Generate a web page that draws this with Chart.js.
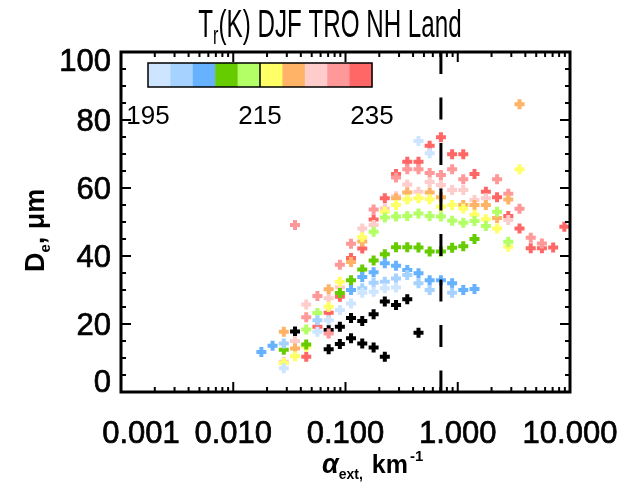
<!DOCTYPE html>
<html lang="en">
<head>
<meta charset="UTF-8">
<title>Tr(K) DJF TRO NH Land</title>
<style>
    body { margin: 0; background: #fff; }
    #wrap { width: 626px; height: 483px; }
</style>
</head>
<body>
<div id="wrap"><canvas id="deChart" width="626" height="483"></canvas></div>
<script src="https://cdn.jsdelivr.net/npm/chart.js@4.4.0/dist/chart.umd.min.js"></script>
<script>
// [alpha_ext (km^-1), De (um)] per temperature bin
const cold1 = [[0.0355,17.8],[0.0708,18.2],[0.0891,19.2],[0.112,21.8],[0.141,20.9],[0.178,22.9],[0.224,26.6],[0.282,25.6],[0.355,27.3],[0.447,17.4]];
const cold2 = [[0.0708,12.6],[0.0891,14.1],[0.112,15.8],[0.141,14.3],[0.178,13.1],[0.224,10.4]];
const t195 = [[0.0282,7],[0.0562,17.7],[0.0708,21.1],[0.0891,24.1],[0.112,26],[0.141,29.2],[0.178,29.5],[0.224,30.5],[0.282,30.7],[0.447,73.8],[0.562,70.2]];
const t199 = [[0.0282,14.3],[0.0562,21.1],[0.141,30.5],[0.178,32.1],[0.224,32.4],[0.282,33.4],[0.355,34.4],[0.447,32],[0.562,30],[0.891,29.2]];
const t203 = [[0.0178,11.8],[0.0224,13.6],[0.112,30],[0.141,33.8],[0.178,35.2],[0.224,37.9],[0.282,37.1],[0.355,35.9],[0.447,34.9],[0.562,32.9],[0.708,32.9],[0.891,32],[1.12,30],[1.41,30.3]];
const t207 = [[0.0282,12.4],[0.0447,14],[0.0891,29.1],[0.112,32.9],[0.141,36],[0.178,38.7],[0.224,40.5],[0.282,42.6],[0.355,42.6],[0.447,42.5],[0.562,41.3],[0.708,41.3],[0.891,42.4],[1.12,42.9],[1.41,45]];
const t211 = [[0.0447,18.4],[0.0562,23.2],[0.178,47.1],[0.224,51.3],[0.282,51.6],[0.355,51.8],[0.447,52.5],[0.562,51.8],[0.708,51.6],[0.891,50.4],[1.12,49.8],[1.41,50.3],[1.78,48.8],[2.24,53],[2.82,44.2]];
const t215 = [[0.0282,8.5],[0.0355,10.5],[0.0447,13.3],[0.0708,25.1],[0.0891,32.4],[0.141,45.5],[0.224,53],[0.282,55],[0.355,56.6],[0.447,57],[0.562,56.7],[0.708,54.5],[0.891,55],[1.12,54],[1.41,52.1],[1.78,50.8],[2.24,48.1],[2.82,42.7],[3.55,65.5]];
const t219 = [[0.0282,17.7],[0.0355,12.8],[0.0708,30.2],[0.112,38.2],[0.141,44.3],[0.282,57],[0.355,58.7],[0.562,58.7],[0.708,57.3],[1.12,55],[1.41,55],[1.78,55],[2.24,51.2],[2.82,56.6],[3.55,84.6]];
const t223 = [[0.0282,8.9],[0.0355,15],[0.0447,25.7],[0.0708,27.6],[0.0891,30.8],[0.141,48.1],[0.178,49.1],[0.224,54],[0.282,57.6],[0.355,61],[0.447,58.9],[0.562,61.8],[0.708,60.9],[0.891,59.4],[1.12,59.4],[1.41,56.5],[1.78,57],[2.82,50.6]];
const t227 = [[0.0355,49.1],[0.0447,22],[0.0562,28.2],[0.0708,17.2],[0.0891,37.4],[0.112,43.6],[0.178,53.7],[0.282,63.1],[0.355,65.5],[0.447,65.5],[0.562,64.4],[0.708,63.8],[0.891,65.5],[1.12,62.6],[2.24,62.6],[2.82,58.3],[3.55,53.9],[4.47,45.4],[5.62,43.7]];
const t231 = [[0.0447,10.4],[0.0562,19.2],[0.0708,23.3],[0.0891,28],[0.112,39.4],[0.141,42.2],[0.178,50.7],[0.224,57],[0.282,64.1],[0.355,67.7],[0.447,67.7],[0.562,72.4],[0.708,74.9],[0.891,69.9],[1.12,69.9],[1.41,64.1],[1.78,58.9],[2.24,57.3],[2.82,51.8],[3.55,48.1],[4.47,42.3],[5.62,42.3],[7.08,42.5],[8.91,48.6]];

const binColors = ['#cde5ff','#a6d2ff','#66b2ff','#66cc00','#b3ff66','#ffff66','#ffb366','#ffcccc','#ff9999','#ff6666'];
const binSeries = [t195, t199, t203, t207, t211, t215, t219, t223, t227, t231];
const binNames = ['195-199','199-203','203-207','207-211','211-215','215-219','219-223','223-227','227-231','231-235'];
const colorbarLabels = ['195', '215', '235'];
const xTicks = [0.001, 0.01, 0.1, 1, 10];
const xTickLabels = ['0.001', '0.010', '0.100', '1.000', '10.000'];
const yTicks = [0, 20, 40, 60, 80, 100];
const cutoffAlpha = 0.708;

const FONT = '"Liberation Sans", Arial, sans-serif';

function toPoints(arr) {
    return arr.map(p => ({ x: p[0], y: p[1] }));
}

const datasets = binSeries.map((s, i) => ({
    label: binNames[i],
    data: toPoints(s),
    borderColor: binColors[i],
    backgroundColor: binColors[i]
}));
datasets.push({ label: '<195 a', data: toPoints(cold1), borderColor: '#000', backgroundColor: '#000' });
datasets.push({ label: '<195 b', data: toPoints(cold2), borderColor: '#000', backgroundColor: '#000' });

function line(ctx, x1, y1, x2, y2) {
    ctx.beginPath();
    ctx.moveTo(x1, y1);
    ctx.lineTo(x2, y2);
    ctx.stroke();
}

// heavier text: fill plus a thin outline
function boldText(ctx, s, x, y, w) {
    ctx.lineWidth = w;
    ctx.strokeText(s, x, y);
    ctx.fillText(s, x, y);
}

const framePlugin = {
    id: 'frame',
    afterDatasetsDraw(chart) {
        const ctx = chart.ctx;
        const a = chart.chartArea;
        const x = chart.scales.x, y = chart.scales.y;
        ctx.save();
        ctx.strokeStyle = '#000';
        ctx.fillStyle = '#000';

        // dashed cutoff line
        const xd = x.getPixelForValue(cutoffAlpha);
        ctx.lineWidth = 3;
        ctx.setLineDash([22, 23.5]);
        line(ctx, xd, a.top, xd, a.bottom);
        ctx.setLineDash([]);

        // box
        ctx.lineWidth = 3;
        ctx.strokeRect(a.left, a.top, a.right - a.left, a.bottom - a.top);

        // x ticks (log, minor 2..9)
        ctx.lineWidth = 2;
        for (let e = -3; e < 1; e++) {
            for (let m = 1; m < 10; m++) {
                const px = x.getPixelForValue(m * Math.pow(10, e));
                const len = m === 1 ? 10 : 5;
                line(ctx, px, a.bottom, px, a.bottom - len);
                line(ctx, px, a.top, px, a.top + len);
            }
        }
        // y ticks
        for (let v = 0; v <= 100; v += 5) {
            const py = y.getPixelForValue(v);
            const len = v % 20 === 0 ? 10 : 5;
            line(ctx, a.left, py, a.left + len, py);
            line(ctx, a.right, py, a.right - len, py);
        }

        // tick labels
        ctx.font = '31px ' + FONT;
        ctx.textAlign = 'center';
        ctx.textBaseline = 'middle';
        xTicks.forEach((v, i) => {
            const shift = i === 0 ? 20 : 0;
            boldText(ctx, xTickLabels[i], x.getPixelForValue(v) + shift, a.bottom + 42, 0.7);
        });
        ctx.textAlign = 'right';
        yTicks.forEach(v => {
            const shift = v === 0 ? -9 : (v === 100 ? 10 : 2);
            boldText(ctx, String(v), a.left - 10, y.getPixelForValue(v) + shift, 0.7);
        });

        // axis titles
        ctx.textAlign = 'left';
        ctx.textBaseline = 'alphabetic';
        let tx = 322, ty = 473;
        ctx.font = 'italic bold 27px ' + FONT;
        ctx.fillText('\u03b1', tx, ty);
        tx += ctx.measureText('\u03b1').width;
        ctx.font = 'bold 14px ' + FONT;
        ctx.fillText('ext,', tx, ty + 6);
        tx += ctx.measureText('ext,').width + 9;
        ctx.font = 'bold 25px ' + FONT;
        ctx.fillText('km', tx, ty);
        tx += ctx.measureText('km').width + 2;
        ctx.font = 'bold 15px ' + FONT;
        ctx.fillText('-1', tx, ty - 12);

        ctx.save();
        ctx.translate(44, 272);
        ctx.rotate(-Math.PI / 2);
        tx = 0;
        ctx.font = 'bold 27px ' + FONT;
        ctx.fillText('D', tx, 0);
        tx += ctx.measureText('D').width;
        ctx.font = 'bold 15px ' + FONT;
        ctx.fillText('e', tx, 6);
        tx += ctx.measureText('e').width;
        ctx.font = 'bold 27px ' + FONT;
        ctx.fillText(', \u03bcm', tx, 0);
        ctx.restore();

        // title (narrow, tall lettering)
        const sx = 0.62;
        ctx.font = '39px ' + FONT;
        const part1 = 'T', part3 = '(K) DJF TRO NH Land';
        const w1 = ctx.measureText(part1).width;
        const w3 = ctx.measureText(part3).width;
        ctx.font = '26px ' + FONT;
        const w2 = ctx.measureText('r').width;
        const total = (w1 + w2 + w3) * sx;
        ctx.save();
        ctx.translate(330 - total / 2, 37);
        ctx.scale(sx, 1);
        ctx.font = '39px ' + FONT;
        ctx.fillText(part1, 0, 0);
        ctx.font = '26px ' + FONT;
        ctx.fillText('r', w1, 7);
        ctx.font = '39px ' + FONT;
        ctx.fillText(part3, w1 + w2, 0);
        ctx.restore();

        // colour bar legend
        const cbL = 148, cbR = 372, cbT = 63, cbB = 87;
        const cw = (cbR - cbL) / binColors.length;
        binColors.forEach((c, i) => {
            ctx.fillStyle = c;
            ctx.fillRect(cbL + i * cw, cbT, cw + 0.5, cbB - cbT);
        });
        ctx.lineWidth = 1.5;
        ctx.strokeRect(cbL, cbT, cbR - cbL, cbB - cbT);
        line(ctx, (cbL + cbR) / 2, cbT, (cbL + cbR) / 2, cbB);
        ctx.fillStyle = '#000';
        ctx.font = '26px ' + FONT;
        ctx.textAlign = 'center';
        ctx.textBaseline = 'middle';
        colorbarLabels.forEach((t, i) => {
            ctx.fillText(t, cbL + i * (cbR - cbL) / 2, 117);
        });
        ctx.restore();
    }
};

new Chart(document.getElementById('deChart'), {
    type: 'scatter',
    data: { datasets: datasets },
    options: {
        responsive: false,
        animation: false,
        devicePixelRatio: 1,
        layout: { padding: { left: 0, right: 56, top: 52, bottom: 0 } },
        elements: {
            point: { pointStyle: 'cross', radius: 5, borderWidth: 4, hoverRadius: 5 }
        },
        plugins: { legend: { display: false }, tooltip: { enabled: false } },
        scales: {
            x: {
                type: 'logarithmic',
                min: 0.001,
                max: 10,
                grid: { display: false },
                border: { display: false },
                ticks: { display: false },
                afterFit: s => { s.height = 91; }
            },
            y: {
                min: 0,
                max: 100,
                grid: { display: false },
                border: { display: false },
                ticks: { display: false },
                afterFit: s => { s.width = 121; }
            }
        }
    },
    plugins: [framePlugin]
});
</script>
</body>
</html>
